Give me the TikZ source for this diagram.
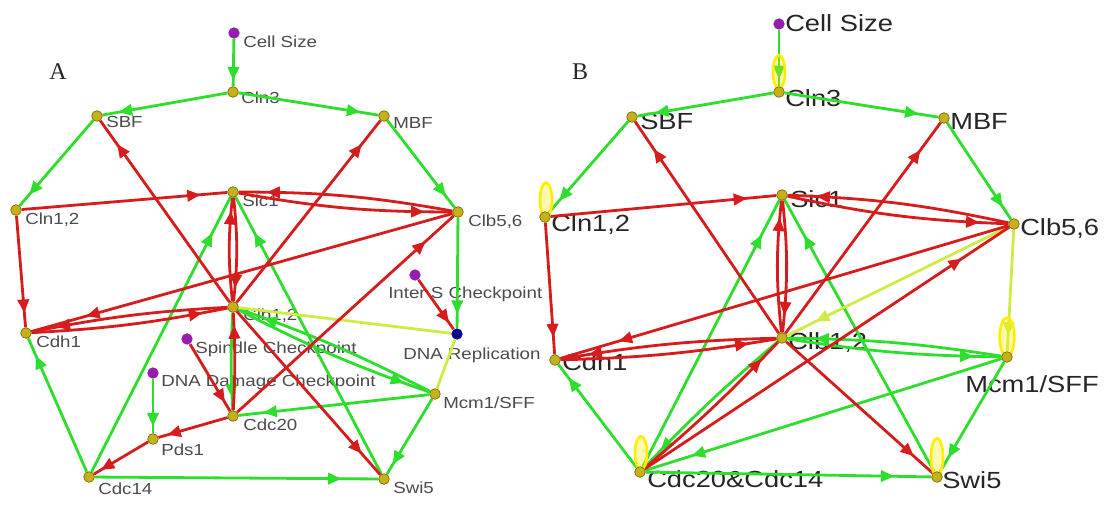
\documentclass[tikz,border=0pt]{standalone}
\usepackage{fontspec}
\setmainfont{Liberation Serif}
\newfontfamily\lfont[FakeStretch=1.17]{Liberation Sans}
\usetikzlibrary{arrows.meta,decorations.markings,shapes.geometric}
\definecolor{grn}{RGB}{45,222,45}
\definecolor{rd}{RGB}{214,28,28}
\definecolor{yg}{RGB}{205,236,70}
\definecolor{yel}{RGB}{255,238,0}
\definecolor{dotc}{RGB}{196,178,24}
\definecolor{dotd}{RGB}{120,104,10}
\definecolor{purp}{RGB}{150,30,175}
\definecolor{navy}{RGB}{8,8,140}
\definecolor{labA}{RGB}{75,75,75}
\definecolor{labB}{RGB}{38,38,38}
\pgfdeclarelayer{lab}
\pgfdeclarelayer{edge}
\pgfsetlayers{lab,edge,main}
\tikzset{
 ln/.style={line width=2.1pt},
 ar/.style={postaction={decorate,decoration={markings,mark=at position 0.87 with {\arrow{Triangle[length=10pt,width=8.5pt]}}}}},
 ga/.style={ln,color=grn,ar},
 ra/.style={ln,color=rd,ar},
 ya/.style={ln,color=yg,ar},
 yl/.style={ln,color=yg},
 dt/.style={circle,fill=dotc,draw=dotd,line width=0.5pt,minimum size=8pt,inner sep=0pt},
 pd/.style={circle,fill=purp,minimum size=8.5pt,inner sep=0pt},
 nv/.style={circle,fill=navy,minimum size=8.5pt,inner sep=0pt},
 la/.style={anchor=base west,inner sep=0pt,text=labA,font=\lfont\fontsize{12}{14}\selectfont},
 lb/.style={anchor=base west,inner sep=0pt,text=labB,font=\lfont\fontsize{17.5}{20}\selectfont},
 lp/.style={ellipse,draw=yel,fill=yel,fill opacity=0.3,line width=2pt,inner sep=0pt,minimum width=9pt,minimum height=25pt},
 pl/.style={anchor=center,inner sep=0pt,font=\fontsize{18}{20}\selectfont,text=black!85},
}
\begin{document}
\begin{tikzpicture}[x=0.75pt,y=-0.75pt]
\useasboundingbox (0,0) rectangle (1110,508);
\begin{pgfonlayer}{lab}
\fill[white] (0,0) rectangle (1110,508);
\end{pgfonlayer}

% ---------------- Panel A ----------------
\node[pl] (pA) at (58,72) {A};
\node[pd] (aCS) at (234,33) {};
\node[dt] (aCln3) at (233,92) {};
\node[dt] (aSBF) at (97,116) {};
\node[dt] (aMBF) at (384,116) {};
\node[dt] (aCln12) at (16,210) {};
\node[dt] (aSic1) at (233,192) {};
\node[dt] (aClb56) at (458,212) {};
\node[pd] (aIS) at (415,275) {};
\node[nv] (aDNA) at (457,334) {};
\node[dt] (aCdh1) at (26,333) {};
\node[dt] (aClb12) at (233,307) {};
\node[pd] (aSC) at (187,339) {};
\node[pd] (aDD) at (153,373) {};
\node[dt] (aMcm) at (435,394) {};
\node[dt] (aCdc20) at (233,416) {};
\node[dt] (aPds1) at (153,439) {};
\node[dt] (aCdc14) at (89,477) {};
\node[dt] (aSwi5) at (384,479) {};

\begin{pgfonlayer}{lab}
\node[la] (taCS) at (243,47) {Cell Size};
\node[la] (taCln3) at (241,103) {Cln3};
\node[la] (taSBF) at (106,127) {SBF};
\node[la] (taMBF) at (393,128) {MBF};
\node[la] (taCln12) at (25,224) {Cln1,2};
\node[la] (taSic1) at (242,206) {Sic1};
\node[la] (taClb56) at (468,226) {Clb5,6};
\node[la] (taCdh1) at (36,347) {Cdh1};
\node[la] (taClb12) at (243,320) {Clb1,2};
\node[la] (taIS) at (388,298) {Inter S Checkpoint};
\node[la] (taDNA) at (403,359) {DNA Replication};
\node[la] (taSC) at (195,353) {Spindle Checkpoint};
\node[la] (taDD) at (161,386) {DNA Damage Checkpoint};
\node[la] (taMcm) at (443,408) {Mcm1/SFF};
\node[la] (taCdc20) at (243,430) {Cdc20};
\node[la] (taPds1) at (161,455) {Pds1};
\node[la] (taCdc14) at (98,494) {Cdc14};
\node[la] (taSwi5) at (393,493) {Swi5};
\end{pgfonlayer}

\begin{pgfonlayer}{edge}
% green
\draw[ga] (aCS) -- (aCln3);
\draw[ga] (aCln3) -- (aSBF);
\draw[ga] (aCln3) -- (aMBF);
\draw[ga] (aSBF) -- (aCln12);
\draw[ga] (aMBF) -- (aClb56);
\draw[ga] (aClb56) -- (aDNA);
\draw[ga] (aClb12) to[bend right=4] (aMcm);
\draw[ga] (aMcm) to[bend right=4] (aClb12);
\draw[ga] (aMcm) -- (aCdc20);
\draw[ga] (aMcm) -- (aSwi5);
\draw[ga] (aClb12) to[bend right=3] (aCdc20);
\draw[ga] (aCdc14) -- (aSwi5);
\draw[ga] (aCdc14) -- (aSic1);
\draw[ga] (aCdc14) -- (aCdh1);
\draw[ga] (aSwi5) -- (aSic1);
\draw[ga] (aDD) -- (aPds1);
% yellow-green
\draw[yl] (aDNA) -- (aMcm);
\draw[yl] (aDNA) -- (aClb12);
% red
\draw[ra] (aCln12) -- (aSic1);
\draw[ra] (aCln12) -- (aCdh1);
\draw[ra] (aClb56) to[bend right=5] (aSic1);
\draw[ra] (aSic1) to[bend right=5] (aClb56);
\draw[ra] (aClb56) -- (aCdh1);
\draw[ra] (aClb12) to[bend right=4] (aCdh1);
\draw[ra] (aCdh1) to[bend right=4] (aClb12);
\draw[ra] (aClb12) -- (aSBF);
\draw[ra] (aClb12) -- (aMBF);
\draw[ra] (aClb12) to[bend left=6] (aSic1);
\draw[ra] (aSic1) to[bend left=6] (aClb12);
\draw[ra] (aClb12) -- (aSwi5);
\draw[ra] (aCdc20) to[bend right=3] (aClb12);
\draw[ra] (aCdc20) -- (aClb56);
\draw[ra] (aCdc20) -- (aPds1);
\draw[ra] (aPds1) -- (aCdc14);
\draw[ra] (aSC) -- (aCdc20);
\draw[ra] (aIS) -- (aDNA);
\end{pgfonlayer}

% ---------------- Panel B ----------------
\node[pl] (pB) at (580,72) {B};
\node[lp] (bL1) at (779,72) {};
\node[lp,minimum height=26pt] (bL2) at (546,200) {};
\node[lp,minimum width=11pt,minimum height=29pt] (bL3) at (1007,337) {};
\node[lp,minimum height=25pt] (bL4) at (641,453) {};
\node[lp,minimum height=28pt] (bL5) at (937,457) {};

\node[pd] (bCS) at (779,24) {};
\node[dt] (bCln3) at (779,92) {};
\node[dt] (bSBF) at (632,117) {};
\node[dt] (bMBF) at (944,118) {};
\node[dt] (bCln12) at (545,217) {};
\node[dt] (bSic1) at (782,195) {};
\node[dt] (bClb56) at (1014,224) {};
\node[dt] (bCdh1) at (555,360) {};
\node[dt] (bClb12) at (782,338) {};
\node[dt] (bMcm) at (1007,357) {};
\node[dt] (bCC) at (640,472) {};
\node[dt] (bSwi5) at (937,477) {};

\begin{pgfonlayer}{lab}
\node[lb] (tbCS) at (785,31) {Cell Size};
\node[lb] (tbCln3) at (785,106) {Cln3};
\node[lb] (tbSBF) at (640,129) {SBF};
\node[lb] (tbMBF) at (950,129) {MBF};
\node[lb] (tbCln12) at (551,231) {Cln1,2};
\node[lb] (tbSic1) at (790,207) {Sic1};
\node[lb] (tbClb56) at (1020,235) {Clb5,6};
\node[lb] (tbCdh1) at (562,370) {Cdh1};
\node[lb] (tbClb12) at (788,349) {Clb1,2};
\node[lb] (tbMcm) at (965,392) {Mcm1/SFF};
\node[lb] (tbCC) at (647,487) {Cdc20\&Cdc14};
\node[lb] (tbSwi5) at (942,488) {Swi5};
\end{pgfonlayer}

\begin{pgfonlayer}{edge}
% green
\draw[ga] (bCS) -- (bCln3);
\draw[ga] (bCln3) -- (bSBF);
\draw[ga] (bCln3) -- (bMBF);
\draw[ga] (bSBF) -- (bCln12);
\draw[ga] (bMBF) -- (bClb56);
\draw[ga] (bClb12) to[bend right=4] (bMcm);
\draw[ga] (bMcm) to[bend right=4] (bClb12);
\draw[ga] (bMcm) -- (bCC);
\draw[ga] (bMcm) -- (bSwi5);
\draw[ga] (bClb12) to[bend right=3] (bCC);
\draw[ga] (bCC) -- (bSic1);
\draw[ga] (bCC) -- (bCdh1);
\draw[ga] (bCC) -- (bSwi5);
\draw[ga] (bSwi5) -- (bSic1);
% yellow-green
\draw[ya] (bClb56) -- (bMcm);
\draw[ya] (bClb56) -- (bClb12);
% red
\draw[ra] (bCln12) -- (bSic1);
\draw[ra] (bCln12) -- (bCdh1);
\draw[ra] (bClb56) to[bend right=5] (bSic1);
\draw[ra] (bSic1) to[bend right=5] (bClb56);
\draw[ra] (bClb56) -- (bCdh1);
\draw[ra] (bClb12) to[bend right=4] (bCdh1);
\draw[ra] (bCdh1) to[bend right=4] (bClb12);
\draw[ra] (bClb12) -- (bSBF);
\draw[ra] (bClb12) -- (bMBF);
\draw[ra] (bClb12) to[bend left=6] (bSic1);
\draw[ra] (bSic1) to[bend left=6] (bClb12);
\draw[ra] (bClb12) -- (bSwi5);
\draw[ra] (bCC) to[bend right=3] (bClb12);
\draw[ra] (bCC) -- (bClb56);
\end{pgfonlayer}
\end{tikzpicture}
\end{document}
